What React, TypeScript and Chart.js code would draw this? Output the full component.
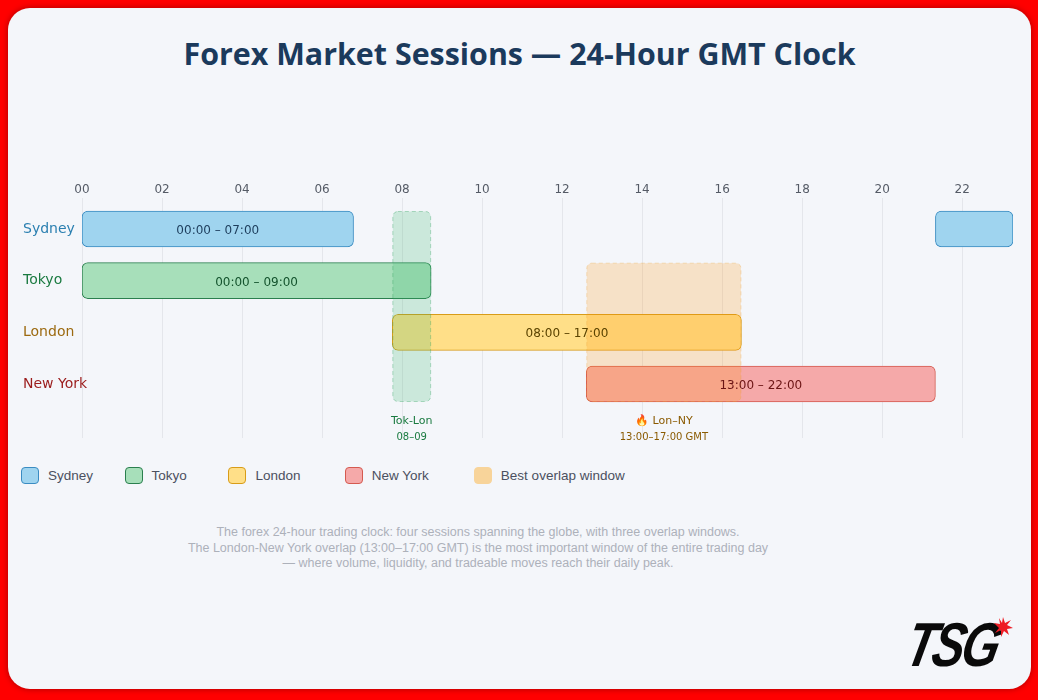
import React, { useEffect, useRef } from 'react';
import { Chart, registerables } from 'chart.js';

Chart.register(...registerables);

// ---------------- data ----------------
const SESSIONS = ['Sydney', 'Tokyo', 'London', 'New York'];
const SYDNEY_SPANS = [[0, 7], [22, 24]];
const TOKYO_SPANS = [[0, 9]];
const LONDON_SPANS = [[8, 17]];
const NEW_YORK_SPANS = [[13, 22]];
const SYDNEY_LABELS = ['00:00 – 07:00', ''];
const TOKYO_LABELS = ['00:00 – 09:00'];
const LONDON_LABELS = ['08:00 – 17:00'];
const NEW_YORK_LABELS = ['13:00 – 22:00'];
const HOUR_TICK_VALUES = [0, 2, 4, 6, 8, 10, 12, 14, 16, 18, 20, 22];
const HOUR_TICK_LABELS = ['00', '02', '04', '06', '08', '10', '12', '14', '16', '18', '20', '22'];
const OVERLAP_NAMES = ['Tok-Lon', '🔥 Lon–NY'];
const OVERLAP_SUBTITLES = ['08–09', '13:00–17:00 GMT'];
const OVERLAP_HOURS = [[8, 9], [13, 17]];
const OVERLAP_ROWS = [[0, 3], [1, 3]];
const LEGEND_LABELS = ['Sydney', 'Tokyo', 'London', 'New York', 'Best overlap window'];
const TITLE = 'Forex Market Sessions — 24-Hour GMT Clock';
const FOOTER_LINES = [
  'The forex 24-hour trading clock: four sessions spanning the globe, with three overlap windows.',
  'The London-New York overlap (13:00–17:00 GMT) is the most important window of the entire trading day',
  '— where volume, liquidity, and tradeable moves reach their daily peak.',
];

const ALL_SPANS = [SYDNEY_SPANS, TOKYO_SPANS, LONDON_SPANS, NEW_YORK_SPANS];
const ALL_BAR_LABELS = [SYDNEY_LABELS, TOKYO_LABELS, LONDON_LABELS, NEW_YORK_LABELS];

// ---------------- styles ----------------
const FILLS = ['#9fd4ef', '#a7dfba', '#ffdf88', '#f5a9a9'];
const BORDERS = ['#3a8cc2', '#2a7f4e', '#d89c18', '#d45a50'];
const ROW_TEXT = ['#2a7fb0', '#1a7a40', '#9c6a10', '#9b1c1c'];
const BAR_TEXT = ['#1d3d5c', '#14532d', '#5a4300', '#6b1414'];
const OVERLAP_FILLS = ['rgba(60,180,110,0.22)', 'rgba(255,150,20,0.22)'];
const OVERLAP_STROKES = ['rgba(50,160,95,0.35)', 'rgba(235,165,60,0.3)'];
const OVERLAP_TEXT = ['#1a7a40', '#8a5a00'];
const LEGEND_FILLS = ['#9fd4ef', '#a7dfba', '#ffdf88', '#f5a9a9', '#f8d49a'];
const LEGEND_BORDERS = ['#3a8cc2', '#2a7f4e', '#d89c18', '#d45a50', '#f8d49a'];
const LEGEND_WIDTHS = [103.6, 103.9, 116.2, 129.2, 200];
const BAR_THICKNESS = 36;
const Y_RANGE = [-0.6, 4.045];
const Y_AXIS_WIDTH = 59;
const BODY_FONT = '"DejaVu Sans", Verdana, sans-serif';

const overlayPlugin = {
  id: 'sessionOverlay',
  afterDatasetsDraw(chart: any) {
    const { ctx } = chart;
    const xs = chart.scales.xBars;
    const ys = chart.scales.y;
    const half = BAR_THICKNESS / 2;
    OVERLAP_HOURS.forEach(([a, b], i) => {
      const x1 = xs.getPixelForValue(a);
      const x2 = xs.getPixelForValue(b);
      const y1 = ys.getPixelForValue(OVERLAP_ROWS[i][0]) - half;
      const y2 = ys.getPixelForValue(OVERLAP_ROWS[i][1]) + half;
      ctx.save();
      ctx.beginPath();
      ctx.roundRect(x1 + 0.5, y1 + 0.5, x2 - x1 - 1, y2 - y1 - 1, 5);
      ctx.fillStyle = OVERLAP_FILLS[i];
      ctx.fill();
      ctx.setLineDash([4, 3]);
      ctx.strokeStyle = OVERLAP_STROKES[i];
      ctx.lineWidth = 1;
      ctx.stroke();
      ctx.setLineDash([]);
      const cx = (x1 + x2) / 2;
      ctx.fillStyle = OVERLAP_TEXT[i];
      ctx.textAlign = 'center';
      ctx.textBaseline = 'middle';
      ctx.font = `11px ${BODY_FONT}`;
      ctx.fillText(OVERLAP_NAMES[i], cx, y2 + 19);
      ctx.font = `10px ${BODY_FONT}`;
      ctx.fillText(OVERLAP_SUBTITLES[i], cx, y2 + 35);
      ctx.restore();
    });
    chart.data.datasets.forEach((_ds: any, di: number) => {
      const meta = chart.getDatasetMeta(di);
      meta.data.forEach((el: any, j: number) => {
        const text = ALL_BAR_LABELS[di][j];
        if (!text) return;
        const { x, y, base } = el.getProps(['x', 'y', 'base'], true);
        ctx.save();
        ctx.fillStyle = BAR_TEXT[di];
        ctx.font = `12px ${BODY_FONT}`;
        ctx.textAlign = 'center';
        ctx.textBaseline = 'middle';
        ctx.fillText(text, (x + base) / 2, y + 2);
        ctx.restore();
      });
    });
  },
};

function SessionsChart() {
  const ref = useRef<HTMLCanvasElement | null>(null);
  useEffect(() => {
    if (!ref.current) return;
    const chart = new Chart(ref.current, {
      type: 'bar',
      data: {
        datasets: ALL_SPANS.map((spans, i) => ({
          label: SESSIONS[i],
          data: spans.map((s) => ({ x: s, y: i })),
          backgroundColor: FILLS[i],
          borderColor: BORDERS[i],
          borderWidth: 1,
          borderRadius: 6,
          borderSkipped: false,
          barThickness: BAR_THICKNESS,
          grouped: false,
          xAxisID: 'xBars',
          yAxisID: 'y',
        })) as any,
      },
      options: {
        indexAxis: 'y',
        responsive: false,
        animation: false,
        layout: { padding: { left: 15, right: 18, top: 0, bottom: 22 } },
        plugins: {
          legend: { display: false },
          tooltip: { enabled: false },
          title: { display: false },
        },
        scales: {
          x: {
            type: 'linear',
            position: 'top',
            min: 0,
            max: 23.27,
            offset: false,
            grid: { color: '#e4e6eb', drawTicks: false, lineWidth: 1 },
            border: { display: false },
            afterBuildTicks: (s: any) => {
              s.min = 0;
              s.max = 23.27;
              s.ticks = HOUR_TICK_VALUES.map((v) => ({ value: v }));
            },
            afterFit: (s: any) => {
              s.height = 28;
            },
            ticks: {
              padding: 1,
              color: '#555b66',
              font: { family: BODY_FONT, size: 12 },
              autoSkip: false,
              maxRotation: 0,
              callback: (v: any) => {
                const k = HOUR_TICK_VALUES.indexOf(Number(v));
                return k >= 0 ? HOUR_TICK_LABELS[k] : '';
              },
            },
          },
          xBars: { type: 'linear', display: false, min: 0, max: 24, offset: false },
          y: {
            type: 'linear',
            min: Y_RANGE[0],
            max: Y_RANGE[1],
            offset: false,
            bounds: 'data',
            reverse: true,
            grid: { display: false, offset: false, drawTicks: false },
            border: { display: false },
            afterBuildTicks: (s: any) => {
              s.min = Y_RANGE[0];
              s.max = Y_RANGE[1];
              s.ticks = SESSIONS.map((_, i) => ({ value: i }));
            },
            afterFit: (s: any) => {
              s.width = Y_AXIS_WIDTH;
            },
            ticks: {
              mirror: true,
              padding: -Y_AXIS_WIDTH,
              crossAlign: 'near',
              autoSkip: false,
              color: (c: any) => ROW_TEXT[c.index] || '#333',
              font: { family: BODY_FONT, size: 14 },
              callback: (v: any) => SESSIONS[Number(v)] ?? '',
            },
          },
        } as any,
      },
      plugins: [overlayPlugin],
    });
    return () => chart.destroy();
  }, []);
  return <canvas ref={ref} width={1023} height={290} style={{ display: 'block', width: 1023, height: 290 }} />;
}

export default function App() {
  return (
    <div style={{ position: 'fixed', inset: 0, background: '#ff0000' }}>
      <div
        style={{
          position: 'absolute',
          left: 8,
          top: 8,
          width: 1023,
          height: 681,
          borderRadius: 22,
          background: '#f4f6fa',
          boxShadow: '0 0 6px rgba(0,0,0,0.35)',
          overflow: 'hidden',
        }}
      >
        <div
          style={{
            position: 'absolute',
            left: 0,
            top: 24,
            width: 1023,
            textAlign: 'center',
            fontFamily: '"Open Sans", "Noto Sans", sans-serif',
            fontWeight: 700,
            fontSize: 30.4,
            lineHeight: '44px',
            color: '#1b3a5c',
          }}
        >
          {TITLE}
        </div>
        <div style={{ position: 'absolute', left: 0, top: 162 }}>
          <SessionsChart />
        </div>
        <div style={{ position: 'absolute', left: 13, top: 459, display: 'flex', alignItems: 'center', height: 17 }}>
          {LEGEND_LABELS.map((lab, i) => (
            <div key={lab} style={{ width: LEGEND_WIDTHS[i], display: 'flex', alignItems: 'center', flex: 'none' }}>
              <span
                style={{
                  display: 'inline-block',
                  width: 16,
                  height: 15,
                  borderRadius: 4,
                  background: LEGEND_FILLS[i],
                  border: `1px solid ${LEGEND_BORDERS[i]}`,
                  marginRight: 9,
                  flex: 'none',
                }}
              />
              <span
                style={{
                  fontFamily: '"Liberation Sans", Arial, sans-serif',
                  fontSize: 13.5,
                  color: '#4b5060',
                  whiteSpace: 'nowrap',
                }}
              >
                {lab}
              </span>
            </div>
          ))}
        </div>
        <div
          style={{
            position: 'absolute',
            left: 0,
            top: 517,
            width: 940,
            textAlign: 'center',
            fontFamily: '"Liberation Sans", Arial, sans-serif',
            fontSize: 12.5,
            lineHeight: '15.6px',
            color: '#adb1ba',
          }}
        >
          {FOOTER_LINES.map((l) => (
            <div key={l}>{l}</div>
          ))}
        </div>
        <div style={{ position: 'absolute', left: 902, top: 604, width: 110, height: 70 }}>
          <div
            style={{
              position: 'absolute',
              left: 4,
              top: 2,
              fontFamily: '"Liberation Sans", Arial, sans-serif',
              fontWeight: 900,
              fontStyle: 'italic',
              fontSize: 62,
              lineHeight: '62px',
              letterSpacing: -4,
              color: '#0a0a0a',
              transform: 'skewX(-12deg) scaleX(0.78)',
              transformOrigin: 'left top',
            }}
          >
            TSG
          </div>
          <svg width="22" height="22" viewBox="-11 -11 22 22" style={{ position: 'absolute', left: 82, top: 4 }}>
            <polygon
              points="0,-10 2,-4 8,-7 4,-2 10,1 4,2 6,8 1,4 -2,10 -2,3 -8,6 -4,1 -9,-4 -3,-3 -4,-9 -1,-4"
              fill="#ee1c24"
            />
          </svg>
        </div>
      </div>
    </div>
  );
}
